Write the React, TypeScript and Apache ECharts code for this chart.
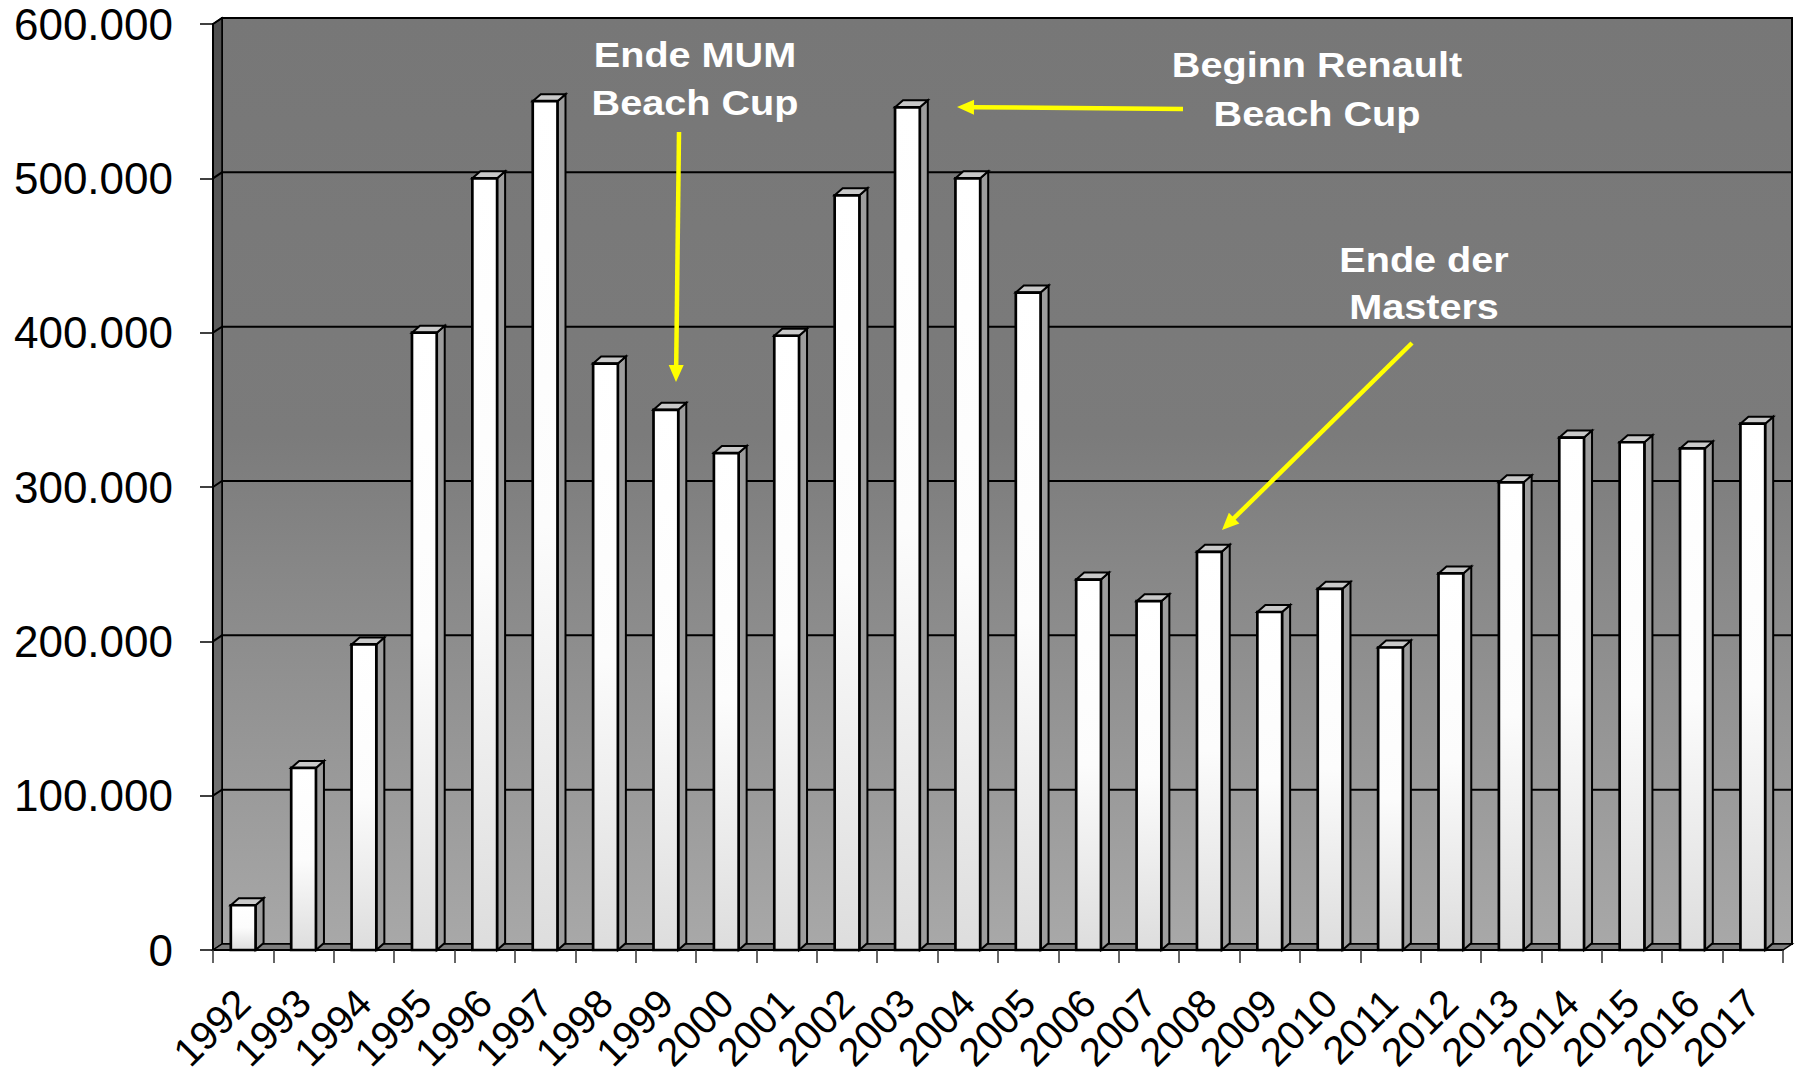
import React, { useEffect, useRef } from "react";
import * as echarts from "echarts";

const years = [
  "1992", "1993", "1994", "1995", "1996", "1997", "1998", "1999", "2000",
  "2001", "2002", "2003", "2004", "2005", "2006", "2007", "2008", "2009",
  "2010", "2011", "2012", "2013", "2014", "2015", "2016", "2017",
];
const visitors = [
  29000, 118000, 198000, 400000, 500000, 550000, 380000, 350000, 322000,
  398000, 489000, 546000, 500000, 426000, 240000, 226000, 258000, 219000,
  234000, 196000, 244000, 303000, 332000, 329000, 325000, 341000,
];
const yTicks = [0, 100000, 200000, 300000, 400000, 500000, 600000];

const FONT = '"Liberation Sans", Arial, sans-serif';
const WALL_DX = 9;
const WALL_DY = -6;
const BAR_DX = 8;
const BAR_DY = -7;

const fmt = (v: number) => String(v).replace(/\B(?=(\d{3})+(?!\d))/g, ".");

function arrow(x1: number, y1: number, x2: number, y2: number) {
  const len = Math.hypot(x2 - x1, y2 - y1);
  const ux = (x2 - x1) / len;
  const uy = (y2 - y1) / len;
  const hl = 17;
  const hw = 7.5;
  const bx = x2 - ux * hl;
  const by = y2 - uy * hl;
  return [
    {
      type: "line",
      shape: { x1, y1, x2: bx + ux * 2, y2: by + uy * 2 },
      style: { stroke: "#ffff00", lineWidth: 4.5 },
      z: 50,
    },
    {
      type: "polygon",
      shape: {
        points: [
          [x2, y2],
          [bx - uy * hw, by + ux * hw],
          [bx + uy * hw, by - ux * hw],
        ],
      },
      style: { fill: "#ffff00" },
      z: 50,
    },
  ];
}

function label(text: string, x: number, y: number) {
  return {
    type: "text",
    x,
    y,
    scaleX: 1.1,
    z: 50,
    style: {
      text,
      fill: "#ffffff",
      font: `bold 36px ${FONT}`,
      textAlign: "center",
      textVerticalAlign: "middle",
    },
  };
}

export default function App() {
  const ref = useRef<HTMLDivElement>(null);

  useEffect(() => {
    if (!ref.current) return;
    const chart = echarts.init(ref.current, null, { renderer: "svg" });

    const wallsRender = (params: any, api: any) => {
      const cs = params.coordSys;
      const x0 = cs.x;
      const x1 = cs.x + cs.width;
      const yTop = cs.y;
      const yBot = cs.y + cs.height;
      const children: any[] = [
        {
          type: "rect",
          shape: { x: x0 + WALL_DX, y: yTop + WALL_DY, width: cs.width, height: cs.height },
          style: {
            fill: {
              type: "linear", x: 0, y: 0, x2: 0, y2: 1,
              colorStops: [
                { offset: 0, color: "#777777" },
                { offset: 0.45, color: "#7b7b7b" },
                { offset: 1, color: "#a8a8a8" },
              ],
            },
            stroke: "#000",
            lineWidth: 2,
          },
        },
        {
          type: "polygon",
          shape: {
            points: [
              [x0, yTop],
              [x0 + WALL_DX, yTop + WALL_DY],
              [x0 + WALL_DX, yBot + WALL_DY],
              [x0, yBot],
            ],
          },
          style: {
            fill: {
              type: "linear", x: 0, y: 0, x2: 0, y2: 1,
              colorStops: [
                { offset: 0, color: "#4f4f4f" },
                { offset: 1, color: "#777777" },
              ],
            },
            stroke: "#000",
            lineWidth: 1.5,
          },
        },
        {
          type: "polygon",
          shape: {
            points: [
              [x0, yBot],
              [x0 + WALL_DX, yBot + WALL_DY],
              [x1 + WALL_DX, yBot + WALL_DY],
              [x1, yBot],
            ],
          },
          style: { fill: "#7e7e7e", stroke: "#000", lineWidth: 1.5 },
        },
      ];
      yTicks.forEach((t) => {
        if (t === 0) return;
        const y = api.coord([0, t])[1];
        children.push({
          type: "polyline",
          shape: {
            points: [
              [x0, y],
              [x0 + WALL_DX, y + WALL_DY],
              [x1 + WALL_DX, y + WALL_DY],
            ],
          },
          style: { stroke: "#000", lineWidth: 2, fill: null },
        });
      });
      return { type: "group", children };
    };

    const barRender = (params: any, api: any) => {
      const idx = api.value(0);
      const v = api.value(1);
      const top = api.coord([idx, v]);
      const base = api.coord([idx, 0]);
      const bw = api.size([1, 0])[0] * 0.41;
      const xl = top[0] - bw / 2;
      const xr = top[0] + bw / 2;
      const yt = top[1];
      const yb = base[1];
      return {
        type: "group",
        children: [
          {
            type: "polygon",
            shape: {
              points: [
                [xr, yt],
                [xr + BAR_DX, yt + BAR_DY],
                [xr + BAR_DX, yb + BAR_DY],
                [xr, yb],
              ],
            },
            style: { fill: "#9d9d9d", stroke: "#000", lineWidth: 2 },
          },
          {
            type: "polygon",
            shape: {
              points: [
                [xl, yt],
                [xl + BAR_DX, yt + BAR_DY],
                [xr + BAR_DX, yt + BAR_DY],
                [xr, yt],
              ],
            },
            style: { fill: "#c9c9c9", stroke: "#000", lineWidth: 2 },
          },
          {
            type: "rect",
            shape: { x: xl, y: yt, width: bw, height: yb - yt },
            style: {
              fill: {
                type: "linear", x: 0, y: 0, x2: 0, y2: 1,
                colorStops: [
                  { offset: 0, color: "#ffffff" },
                  { offset: 0.5, color: "#fcfcfc" },
                  { offset: 1, color: "#dddddd" },
                ],
              },
              stroke: "#000",
              lineWidth: 2.7,
            },
          },
        ],
      };
    };

    chart.setOption({
      animation: false,
      backgroundColor: "#ffffff",
      grid: {
        left: 213,
        right: 15,
        top: 24,
        bottom: 126,
        containLabel: false,
        outerBoundsMode: "none",
      },
      xAxis: {
        type: "category",
        data: years,
        boundaryGap: true,
        axisLine: { show: true, lineStyle: { color: "#000", width: 2 } },
        axisTick: { show: true, length: 13, lineStyle: { color: "#333", width: 1.5 } },
        axisLabel: {
          rotate: 45,
          margin: 46,
          fontSize: 40,
          fontFamily: FONT,
          color: "#000",
          interval: 0,
        },
        splitLine: { show: false },
        z: 10,
      },
      yAxis: {
        type: "value",
        min: 0,
        max: 600000,
        interval: 100000,
        axisLine: { show: true, lineStyle: { color: "#000", width: 2 } },
        axisTick: { show: true, length: 13, lineStyle: { color: "#000", width: 1.5 } },
        axisLabel: {
          margin: 40,
          fontSize: 44,
          fontFamily: FONT,
          color: "#000",
          formatter: (v: number) => fmt(v),
        },
        splitLine: { show: false },
        z: 10,
      },
      series: [
        {
          type: "custom",
          name: "walls",
          data: [[0, 0]],
          encode: { x: 0, y: 1 },
          clip: false,
          silent: true,
          z: 1,
          renderItem: wallsRender,
        },
        {
          type: "custom",
          name: "Besucher",
          data: visitors.map((v, i) => [i, v]),
          encode: { x: 0, y: 1 },
          clip: false,
          z: 5,
          renderItem: barRender,
        },
      ],
      graphic: [
        label("Ende MUM", 695, 55),
        label("Beach Cup", 695, 103),
        label("Beginn Renault", 1317, 65),
        label("Beach Cup", 1317, 114),
        label("Ende der", 1424, 260),
        label("Masters", 1424, 307),
        ...arrow(679, 132, 676, 382),
        ...arrow(1183, 109, 957, 107),
        ...arrow(1412, 343, 1222, 530),
      ],
    });

    return () => chart.dispose();
  }, []);

  return (
    <div
      ref={ref}
      style={{ position: "absolute", left: 0, top: 0, width: 1798, height: 1076, background: "#fff" }}
    />
  );
}
